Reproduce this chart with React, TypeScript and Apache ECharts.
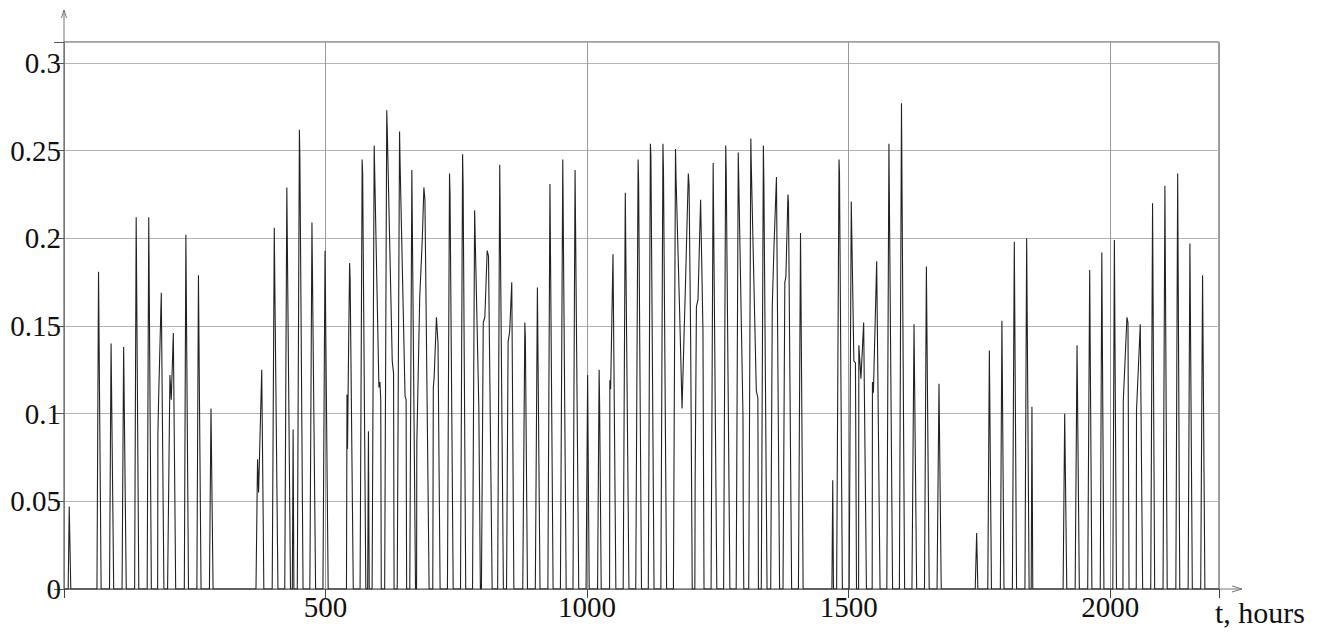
import React, { useEffect, useRef } from "react";
import * as echarts from "echarts";

// Hours / values (one line, daily spikes)
const run1: [number, number][] = [
  [8, 0], [10, 0.047], [13, 0],
  [63, 0], [66, 0.181], [71, 0],
  [87, 0], [90, 0.14], [95, 0],
  [111, 0], [114, 0.138], [119, 0],
  [135, 0], [138, 0.212], [143, 0],
  [159, 0], [162, 0.212], [167, 0],
  [179, 0], [179.5, 0.088], [181, 0.11], [186, 0.169], [191, 0],
  [198, 0], [202.5, 0.122], [205, 0.108], [209, 0.146], [213.5, 0],
  [230, 0], [233, 0.202], [238, 0],
  [254, 0], [257, 0.179], [262, 0],
  [278, 0], [281, 0.103], [285, 0],
];

const run2: [number, number][] = [
  [367, 0], [370, 0.074], [372, 0.055], [378, 0.125], [381, 0.034], [382, 0],
  [398, 0], [402, 0.206], [403, 0.175], [409, 0],
  [422, 0], [426, 0.229], [433, 0],
  [436.5, 0], [438, 0.091], [439.5, 0],
  [446, 0], [450, 0.262], [451, 0.244], [457, 0],
  [470, 0], [474, 0.209], [481, 0],
  [495, 0], [499, 0.193], [505, 0],
  [540, 0], [541, 0.111], [542, 0.08], [544, 0.136], [546, 0.186], [547, 0.177], [553, 0],
  [566, 0], [570, 0.245], [571, 0.237], [571.5, 0.215], [577, 0],
  [580.5, 0], [582, 0.09], [583.5, 0],
  [589, 0], [593, 0.253], [602, 0.115], [604, 0.118], [605.5, 0.108], [606.5, 0],
  [613, 0], [617, 0.273], [618, 0.262], [627.5, 0.13], [630, 0.123], [631, 0],
  [637, 0], [641.5, 0.261], [642.5, 0.243], [652, 0.11], [654, 0.108], [655, 0],
  [661, 0], [665, 0.239], [672, 0],
  [674, 0], [674.5, 0.083], [680, 0.166], [685, 0.2], [688, 0.229], [690, 0.222], [698, 0],
  [705, 0], [706, 0.115], [707.5, 0.12], [712, 0.155], [715, 0.14], [719, 0],
  [733, 0], [737, 0.237], [738, 0.225], [744, 0],
  [758, 0], [762, 0.248], [763, 0.23], [768, 0],
  [781, 0], [785, 0.216], [793, 0.104], [796, 0],
  [798, 0], [801.5, 0.152], [804.5, 0.155], [809, 0.193], [811.5, 0.19], [818.5, 0],
  [829, 0], [833, 0.242], [840, 0],
  [846, 0], [849, 0.141], [852, 0.147], [856, 0.175], [860, 0],
  [877, 0], [881, 0.152], [882, 0.143], [886, 0],
  [901, 0], [905, 0.172], [910, 0],
  [925, 0], [929, 0.231], [935, 0],
  [949, 0], [953.5, 0.245], [960, 0],
  [973, 0], [977, 0.239], [984, 0],
  [998, 0], [1001, 0.122], [1004, 0],
  [1020, 0], [1023, 0.125], [1024, 0.104], [1027, 0],
  [1043, 0], [1043.5, 0.119], [1045, 0.114], [1049.5, 0.191], [1055, 0],
  [1069, 0], [1073, 0.226], [1080, 0],
  [1093, 0], [1097.5, 0.245], [1098.5, 0.232], [1104, 0],
  [1117, 0], [1121, 0.254], [1122, 0.247], [1128, 0],
  [1141, 0], [1145, 0.254], [1146, 0.239], [1152, 0],
  [1165, 0], [1169, 0.251], [1170, 0.235], [1177, 0.157], [1181.5, 0.103], [1188, 0.173], [1193.5, 0.237], [1195, 0.23], [1198, 0.14], [1201, 0],
  [1206, 0], [1206.5, 0.06], [1209, 0.161], [1212, 0.165], [1217, 0.222], [1221.5, 0.147], [1223.5, 0],
  [1237, 0], [1241, 0.243], [1248, 0],
  [1261, 0], [1265, 0.253], [1266, 0.237], [1273, 0],
  [1285, 0], [1289, 0.249], [1298, 0.099], [1298.5, 0.042], [1299.5, 0],
  [1309, 0], [1313, 0.257], [1314, 0.24], [1323.5, 0.113], [1326.5, 0.109], [1327.5, 0],
  [1333, 0], [1337, 0.253], [1338, 0.23], [1344, 0],
  [1351, 0], [1354, 0.161], [1357, 0.193], [1362, 0.235], [1368, 0],
  [1374.5, 0], [1378, 0.175], [1380, 0.178], [1384, 0.225], [1385, 0.22], [1391, 0],
  [1404, 0], [1408, 0.203], [1413, 0],
];

const run3: [number, number][] = [
  [1468, 0], [1469.6, 0.062], [1471, 0],
  [1477, 0], [1481.6, 0.245], [1482.5, 0.237], [1488, 0],
  [1501, 0], [1505, 0.221], [1510, 0.13], [1513, 0.129], [1515, 0],
  [1519, 0], [1519.5, 0.139], [1523.5, 0.12], [1528.7, 0.152], [1534, 0],
  [1545, 0], [1545.5, 0.118], [1547.3, 0.112], [1553.6, 0.187], [1560, 0],
  [1573, 0], [1577, 0.254], [1584, 0],
  [1597, 0], [1601, 0.277], [1607, 0],
  [1621, 0], [1625, 0.151], [1630, 0],
  [1645, 0], [1648.6, 0.184], [1654, 0],
  [1669, 0], [1672.7, 0.117], [1677, 0],
];

const run4: [number, number][] = [
  [1742, 0], [1744.7, 0.032], [1747, 0],
  [1766, 0], [1769, 0.136], [1773, 0],
  [1790, 0], [1793, 0.153], [1797, 0],
  [1813, 0], [1816.7, 0.198], [1821, 0],
  [1837, 0], [1840.3, 0.2], [1845, 0],
  [1849, 0], [1850.4, 0.104], [1852, 0],
  [1910, 0], [1913, 0.1], [1917, 0],
  [1933, 0], [1936.6, 0.139], [1941, 0],
  [1957, 0], [1960.8, 0.182], [1965, 0],
  [1981, 0], [1984, 0.192], [1988, 0],
  [2005, 0], [2008, 0.199], [2012, 0],
  [2024.4, 0], [2025, 0.107], [2032, 0.155], [2034, 0.152], [2036, 0],
  [2049.8, 0], [2050.3, 0.102], [2057.5, 0.151], [2062, 0],
  [2077.5, 0], [2081, 0.22], [2085, 0],
  [2101, 0], [2104.6, 0.23], [2109, 0],
  [2125.5, 0], [2129, 0.237], [2133, 0],
  [2149, 0], [2152.4, 0.197], [2157, 0],
  [2173, 0], [2176.6, 0.179], [2181, 0],
];

const X_MIN = 0;
const X_MAX = 2208;
const X_STEP = 500;
const Y_MIN = 0;
const Y_MAX = 0.312;
const Y_STEP = 0.05;
const X_NAME = "t, hours";

const W = 1325;
const H = 633;
const G_LEFT = 64;
const G_RIGHT = 106;
const G_TOP = 42;
const G_BOTTOM = 44;
const FONT = "'Liberation Serif', 'Times New Roman', 'DejaVu Serif', serif";

export default function App() {
  const ref = useRef<HTMLDivElement>(null);

  useEffect(() => {
    if (!ref.current) return;
    const chart = echarts.init(ref.current, undefined, { renderer: "svg" });
    const data = [[X_MIN, 0], ...run1, ...run2, ...run3, ...run4, [X_MAX, 0]];
    const x0 = G_LEFT;
    const y0 = H - G_BOTTOM;
    const x1 = W - G_RIGHT;
    const axisColor = "#777";

    chart.setOption({
      animation: false,
      backgroundColor: "#fff",
      grid: {
        left: G_LEFT,
        right: G_RIGHT,
        top: G_TOP,
        bottom: G_BOTTOM,
        show: true,
        borderColor: "#444",
        borderWidth: 1,
        backgroundColor: "transparent",
      },
      xAxis: [
        {
          type: "value",
          min: X_MIN,
          max: X_MAX,
          interval: X_STEP,
          axisLine: { show: true, lineStyle: { color: axisColor, width: 1 } },
          axisTick: { show: false },
          axisLabel: {
            formatter: (v: number) => (v === 0 ? "" : String(v)),
            fontFamily: FONT,
            fontSize: 29,
            color: "#111",
            margin: 3,
            showMaxLabel: false,
          },
          splitLine: { show: true, lineStyle: { color: "#9a9a9a", width: 1 } },
        },
        {
          type: "value",
          position: "top",
          min: X_MIN,
          max: X_MAX,
          interval: X_STEP,
          axisLine: { show: false },
          axisTick: { show: true, inside: true, length: 9, lineStyle: { color: "#444" } },
          axisLabel: { show: false },
          splitLine: { show: false },
        },
      ],
      yAxis: [
        {
          type: "value",
          min: Y_MIN,
          max: Y_MAX,
          interval: Y_STEP,
          axisLine: { show: true, lineStyle: { color: axisColor, width: 1 } },
          axisTick: { show: false },
          axisLabel: {
            formatter: (v: number) => String(Math.round(v * 100) / 100),
            fontFamily: FONT,
            fontSize: 29,
            color: "#111",
            margin: 3,
            showMaxLabel: false,
          },
          splitLine: { show: true, lineStyle: { color: "#b4b4b4", width: 1 } },
        },
        {
          type: "value",
          position: "right",
          min: Y_MIN,
          max: Y_MAX,
          interval: Y_STEP,
          axisLine: { show: false },
          axisTick: { show: true, inside: true, length: 10, lineStyle: { color: "#555" } },
          axisLabel: { show: false },
          splitLine: { show: false },
        },
      ],
      series: [
        {
          type: "line",
          xAxisIndex: 0,
          yAxisIndex: 0,
          data,
          showSymbol: false,
          symbol: "none",
          silent: true,
          lineStyle: { color: "#222", width: 1.1 },
        },
      ],
      graphic: [
        { type: "line", shape: { x1: x0, y1: G_TOP, x2: x0, y2: 10 }, style: { stroke: axisColor, lineWidth: 1 } },
        {
          type: "polyline",
          shape: { points: [[x0 - 2.5, 18], [x0, 10], [x0 + 2.5, 18]] },
          style: { stroke: axisColor, fill: "none", lineWidth: 1 },
        },
        { type: "line", shape: { x1: x1, y1: y0, x2: x1 + 23, y2: y0 }, style: { stroke: axisColor, lineWidth: 1 } },
        {
          type: "polyline",
          shape: { points: [[x1 + 13, y0 - 3], [x1 + 23, y0], [x1 + 13, y0 + 3]] },
          style: { stroke: axisColor, fill: "none", lineWidth: 1 },
        },
        {
          type: "text",
          x: x1 - 4,
          y: y0 + 8,
          style: { text: X_NAME, fontFamily: FONT, fontSize: 30, fill: "#111", textVerticalAlign: "top" },
        },
      ],
    });

    return () => chart.dispose();
  }, []);

  return (
    <div
      ref={ref}
      style={{ position: "fixed", left: 0, top: 0, width: W, height: H, background: "#fff" }}
    />
  );
}
